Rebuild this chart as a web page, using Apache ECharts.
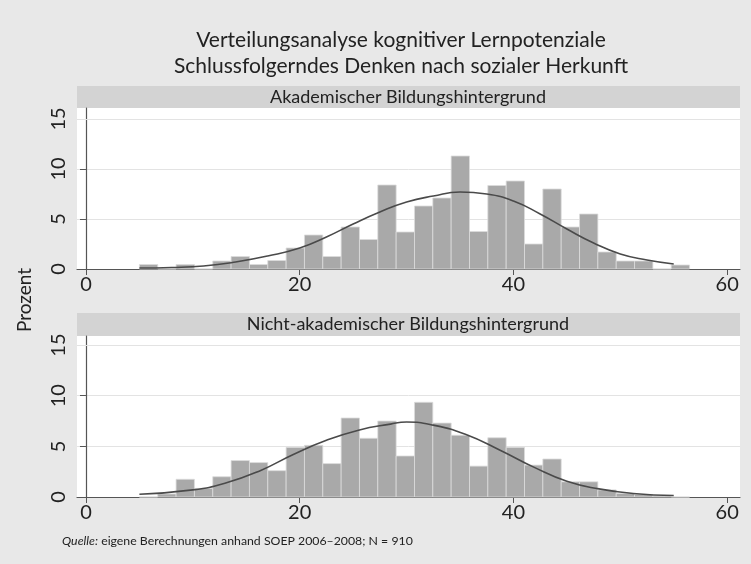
<!DOCTYPE html>
<html>
<head>
<meta charset="utf-8">
<script src="https://cdn.jsdelivr.net/npm/echarts@6/dist/echarts.min.js"></script>
<style>
  html, body { margin: 0; padding: 0; background: #e8e8e8; }
  #main { width: 751px; height: 564px; }
</style>
</head>
<body>
<div id="main"></div>
<script>
// histogram bins (percent)
var binStart = 5;
var binWidth = 1.716;
var akadPct = [0.45, 0, 0.45, 0, 0.8, 1.25, 0.45, 0.85, 2.1, 3.4,
               1.25, 4.2, 2.95, 8.4, 3.7, 6.3, 7.1, 11.3, 3.75, 8.35,
               8.8, 2.5, 8.0, 4.2, 5.5, 1.7, 0.8, 0.8, 0, 0.4];
var nichtPct = [0, 0.3, 1.75, 0.85, 2.0, 3.6, 3.4, 2.6, 4.9, 5.1,
                3.3, 7.8, 5.8, 7.5, 4.05, 9.35, 7.3, 6.1, 3.05, 5.85,
                4.9, 3.15, 3.75, 1.5, 1.5, 0.7, 0.35, 0.25, 0.1, 0];

// normal curve overlay
var akadCurve = [[5, 0.1], [8, 0.15], [11, 0.3], [14, 0.7], [17, 1.3], [20, 2.1],
                 [22.5, 3.2], [25, 4.5], [27.5, 5.7], [30, 6.7], [32.5, 7.3], [35, 7.7],
                 [37.5, 7.5], [40, 6.8], [42.5, 5.5], [45, 4.0], [47.5, 2.6], [50, 1.5],
                 [52.5, 0.9], [55, 0.5]];
var nichtCurve = [[5, 0.27], [10, 0.7], [13, 1.35], [16.3, 2.6], [19.4, 4.2], [22.5, 5.6],
                  [25.5, 6.6], [28.5, 7.2], [30, 7.4], [32.5, 7.1], [35.5, 6.2], [38.8, 4.6],
                  [41.9, 2.95], [45, 1.55], [48, 0.8], [51.2, 0.35], [55, 0.15]];

var xTicks = [0, 20, 40, 60];
var yTicks = [0, 5, 10, 15];
var panelTitles = ['Akademischer Bildungshintergrund', 'Nicht-akademischer Bildungshintergrund'];

var FONT = 'Lato';

function binData(pct) {
    return pct.map(function (h, i) {
        return [binStart + i * binWidth, binStart + (i + 1) * binWidth, h];
    });
}

function renderBin(params, api) {
    var p0 = api.coord([api.value(0), api.value(2)]);
    var p1 = api.coord([api.value(1), 0]);
    return {
        type: 'rect',
        shape: { x: p0[0], y: p0[1], width: p1[0] - p0[0], height: p1[1] - p0[1] },
        style: { fill: '#a9a9a9', stroke: '#dcdcdc', lineWidth: 0.8 }
    };
}

function xAxisCfg(idx) {
    return {
        type: 'value', gridIndex: idx, min: -0.84, max: 61.2,
        axisLine: { show: true, lineStyle: { color: '#555', width: 1.2 } },
        axisTick: { show: true, length: 6, customValues: xTicks, lineStyle: { color: '#555' } },
        axisLabel: { customValues: xTicks, color: '#222', fontFamily: FONT, fontSize: 20, margin: 6 },
        splitLine: { show: false }
    };
}

function yAxisCfg(idx, max) {
    return {
        type: 'value', gridIndex: idx, min: 0, max: max, interval: 5,
        axisLine: { show: true, lineStyle: { color: '#555', width: 1.2 } },
        axisTick: { show: true, length: 6, customValues: yTicks, lineStyle: { color: '#555' } },
        axisLabel: { customValues: yTicks, rotate: 90, color: '#222', fontFamily: FONT, fontSize: 20, margin: 8 },
        splitLine: { show: true, lineStyle: { color: '#e3e3e3', width: 1 } }
    };
}

// gridline at 15 drawn as a mark line so it sits under the bars
function topLine() {
    return { silent: true, symbol: 'none', label: { show: false },
             lineStyle: { color: '#e3e3e3', width: 1, type: 'solid' }, data: [{ yAxis: 15 }] };
}

var chart = echarts.init(document.getElementById('main'));

chart.setOption({
    backgroundColor: '#e8e8e8',
    animation: false,
    title: {
        text: 'Verteilungsanalyse kognitiver Lernpotenziale\nSchlussfolgerndes Denken nach sozialer Herkunft',
        left: 396, top: 22, textAlign: 'center',
        textStyle: { fontFamily: FONT, fontWeight: 'normal', fontSize: 21, color: '#222', lineHeight: 26 }
    },
    grid: [
        { left: 77, right: 11, top: 108, height: 161, backgroundColor: '#fff', show: true, borderWidth: 0 },
        { left: 77, right: 11, top: 336, height: 161, backgroundColor: '#fff', show: true, borderWidth: 0 }
    ],
    xAxis: [xAxisCfg(0), xAxisCfg(1)],
    yAxis: [yAxisCfg(0, 16.1), yAxisCfg(1, 15.9)],
    series: [
        { type: 'custom', xAxisIndex: 0, yAxisIndex: 0, data: binData(akadPct), encode: { x: [0, 1], y: 2 },
          renderItem: renderBin, markLine: topLine() },
        { type: 'line', xAxisIndex: 0, yAxisIndex: 0, data: akadCurve, smooth: true, showSymbol: false,
          lineStyle: { color: '#4a4a4a', width: 1.6 } },
        { type: 'custom', xAxisIndex: 1, yAxisIndex: 1, data: binData(nichtPct), encode: { x: [0, 1], y: 2 },
          renderItem: renderBin, markLine: topLine() },
        { type: 'line', xAxisIndex: 1, yAxisIndex: 1, data: nichtCurve, smooth: true, showSymbol: false,
          lineStyle: { color: '#4a4a4a', width: 1.6 } }
    ],
    graphic: [
        { type: 'rect', left: 77, top: 86, shape: { width: 663, height: 22 }, style: { fill: '#d3d3d3' } },
        { type: 'text', x: 408, y: 97, style: { text: panelTitles[0], fontFamily: FONT, fontSize: 18, fill: '#222', align: 'center', verticalAlign: 'middle' } },
        { type: 'rect', left: 77, top: 313, shape: { width: 663, height: 23 }, style: { fill: '#d3d3d3' } },
        { type: 'text', x: 408, y: 324, style: { text: panelTitles[1], fontFamily: FONT, fontSize: 18, fill: '#222', align: 'center', verticalAlign: 'middle' } },
        { type: 'text', x: 25, y: 300, rotation: Math.PI / 2,
          style: { text: 'Prozent', fontFamily: FONT, fontSize: 19, fill: '#222', align: 'center', verticalAlign: 'middle' } },
        { type: 'text', x: 62, y: 541,
          style: {
              text: '{i|Quelle:} eigene Berechnungen anhand SOEP 2006–2008; N = 910',
              fontFamily: FONT, fontSize: 12.3, fill: '#222', verticalAlign: 'middle',
              rich: { i: { fontFamily: FONT, fontSize: 12.3, fontStyle: 'italic', fill: '#222' } }
          } }
    ]
});
</script>
</body>
</html>
